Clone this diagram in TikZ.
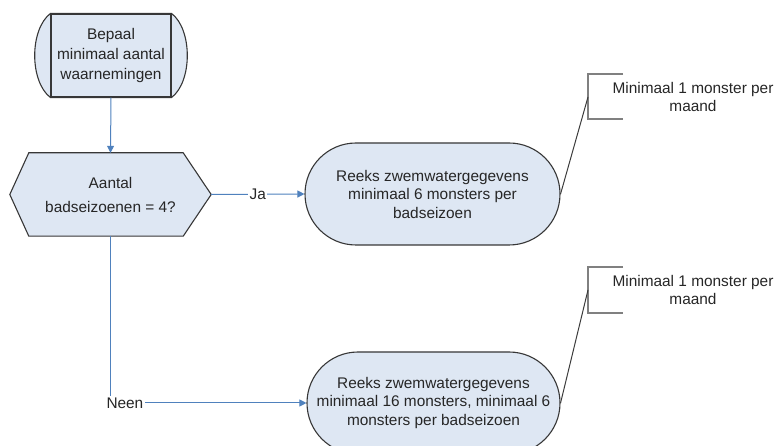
\documentclass[tikz,border=0pt]{standalone}
\usepackage{fontspec}
\setmainfont{Liberation Sans}
\usetikzlibrary{shapes.misc,arrows.meta,backgrounds}
\definecolor{boxfill}{RGB}{222,231,243}
\definecolor{boxline}{RGB}{55,55,55}
\definecolor{conn}{RGB}{79,129,189}
\definecolor{brk}{RGB}{128,128,128}
\definecolor{noteline}{RGB}{60,60,60}
\tikzset{
  x=1pt, y=-1pt,
  txt/.style={font=\fontsize{15.4}{18.5}\selectfont, text=black!85, align=center, inner sep=0pt},
  shapeline/.style={draw=boxline, line width=1.1pt, fill=boxfill},
  startbox/.style={txt, shapeline, rectangle, minimum width=120pt, minimum height=83pt, font=\fontsize{15.4}{20}\selectfont},
  hexbox/.style={txt, rectangle, minimum width=201pt, minimum height=83pt, font=\fontsize{15.4}{24}\selectfont},
  stadium/.style={txt, shapeline, rounded rectangle, minimum height=102pt},
  conn/.style={draw=conn, line width=1pt, -{Triangle[length=7pt,width=7pt]}},
  lbl/.style={txt, fill=white, inner sep=1.5pt, text=black!85},
  bracket/.style={draw=brk, line width=1.6pt},
  noteln/.style={draw=noteline, line width=1pt},
}
\begin{document}
\begin{tikzpicture}
\useasboundingbox (0,0) rectangle (777,446);
\node[startbox] (start) at (111,55.5) {Bepaal\\minimaal aantal\\waarnemingen};
\node[hexbox] (hex) at (110.5,194.5) {Aantal\\badseizoenen = 4?};
\node[stadium, minimum width=255pt] (s1) at (432.5,194) {Reeks zwemwatergegevens\\minimaal 6 monsters per\\badseizoen};
\node[stadium, minimum width=253pt] (s2) at (433.5,403) {Reeks zwemwatergegevens\\minimaal 16 monsters, minimaal 6\\monsters per badseizoen};
\begin{scope}[on background layer]
  \path[shapeline] (start.north east) .. controls +(21,16) and +(21,-16) .. (start.south east) -- (start.south west) .. controls +(-21,-16) and +(-21,16) .. (start.north west) -- cycle;
  \path[shapeline] (hex.west) -- ([xshift=19pt]hex.north west) -- ([xshift=-28pt]hex.north east) -- (hex.east) -- ([xshift=-28pt]hex.south east) -- ([xshift=19pt]hex.south west) -- cycle;
\end{scope}
% connectors
\draw[conn] (start.south) -- (hex.north);
\draw[conn] (hex.east) -- node[lbl] (ja) {Ja} (s1.west);
\draw[conn] (hex.south) |- node[lbl, pos=0.5, anchor=west, xshift=-6pt] (neen) {Neen} (s2.west);
% annotations
\coordinate (b1) at (588,97);
\coordinate (b2) at (588,290);
\node[txt] (a1) at (693,97) {Minimaal 1 monster per\\maand};
\node[txt] (a2) at (693,290) {Minimaal 1 monster per\\maand};
\draw[bracket] (623,74) -| (b1) |- (623,119);
\draw[bracket] (623,267) -| (b2) |- (623,313);
\draw[noteln] (s1.east) -- (b1);
\draw[noteln] (s2.east) -- (b2);
\end{tikzpicture}
\end{document}
